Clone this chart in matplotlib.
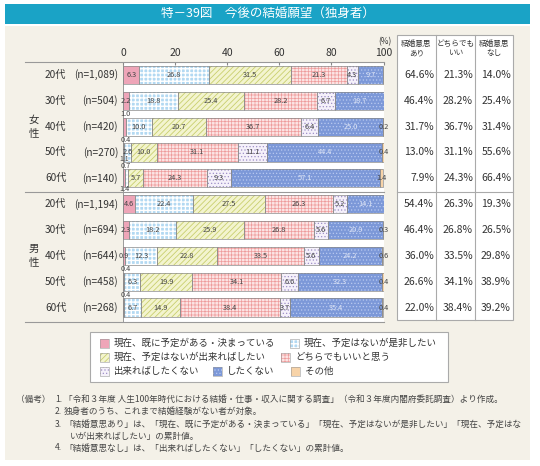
import numpy as np
import matplotlib
matplotlib.use("Agg")
import matplotlib.pyplot as plt
from matplotlib.patches import Rectangle
from matplotlib.lines import Line2D
from matplotlib.transforms import blended_transform_factory

plt.rcParams['font.family'] = ['Noto Sans CJK JP', 'DejaVu Sans']

# データ
ages = ['20代', '30代', '40代', '50代', '60代'] * 2
counts = ['(n=1,089)', '(n=504)', '(n=420)', '(n=270)', '(n=140)',
          '(n=1,194)', '(n=694)', '(n=644)', '(n=458)', '(n=268)']
groups = ['女\n性', '男\n性']

categories = ['現在、既に予定がある・決まっている', '現在、予定はないが是非したい',
              '現在、予定はないが出来ればしたい', 'どちらでもいいと思う',
              '出来ればしたくない', 'したくない', 'その他']

kimatteiru = [6.3, 2.2, 1.0, 0.4, 0.7, 4.6, 2.3, 0.9, 0.4, 0.4]
zehi = [26.8, 18.8, 10.0, 2.6, 1.4, 22.4, 18.2, 12.3, 6.3, 6.7]
dekireba = [31.5, 25.4, 20.7, 10.0, 5.7, 27.5, 25.9, 22.8, 19.9, 14.9]
dochira = [21.3, 28.2, 36.7, 31.1, 24.3, 26.3, 26.8, 33.5, 34.1, 38.4]
dekireba_nai = [4.3, 6.7, 6.4, 11.1, 9.3, 5.2, 5.6, 5.6, 6.6, 3.7]
shitakunai = [9.7, 18.7, 25.0, 44.4, 57.1, 14.1, 20.9, 24.2, 32.3, 35.4]
sonota = [0.0, 0.0, 0.2, 0.4, 1.4, 0.0, 0.3, 0.6, 0.4, 0.4]

table_head = ['結婚意思\nあり', 'どちらでも\nいい', '結婚意思\nなし']
ishi_ari = [64.6, 46.4, 31.7, 13.0, 7.9, 54.4, 46.4, 36.0, 26.6, 22.0]
dochira_tbl = [21.3, 28.2, 36.7, 31.1, 24.3, 26.3, 26.8, 33.5, 34.1, 38.4]
ishi_nashi = [14.0, 25.4, 31.4, 55.6, 66.4, 19.3, 26.5, 29.8, 38.9, 39.2]

notes = [
    ('（備考）', '1.', '「令和３年度 人生100年時代における結婚・仕事・収入に関する調査」（令和３年度内閣府委託調査）より作成。'),
    ('', '2.', '独身者のうち、これまで結婚経験がない者が対象。'),
    ('', '3.', '「結婚意思あり」は、「現在、既に予定がある・決まっている」「現在、予定はないが是非したい」「現在、予定はな'),
    ('', '', 'いが出来ればしたい」の累計値。'),
    ('', '4.', '「結婚意思なし」は、「出来ればしたくない」「したくない」の累計値。'),
]

# 小さい値のラベル位置（行, 系列）: 'above' / 'below' / 'end' / 'skip'
label_pos = {
    (0, 6): 'skip', (1, 6): 'skip', (5, 6): 'skip',
    (2, 0): 'above', (2, 6): 'end',
    (3, 0): 'above', (3, 6): 'end',
    (4, 0): 'above', (4, 1): 'below',
    (6, 6): 'end', (7, 6): 'end', (8, 0): 'above', (8, 6): 'end',
    (9, 0): 'above', (9, 6): 'end',
}

# スタイル: (面の色, ハッチ, ハッチ色, ハッチ線幅)
styles = [
    ('#EEA5B8', None, '#EEA5B8', 0.5),
    ('#B3D9F2', '++++', '#FFFFFF', 1.0),
    ('#F3F4CF', '//////', '#C9CF6E', 0.6),
    ('#FCE4E4', '+++++', '#EE9C9C', 0.5),
    ('#F5F1FA', '.....', '#9E90C8', 0.5),
    ('#7C98D8', '.....', '#B8C9F0', 0.5),
    ('#F7D3A8', None, '#F7D3A8', 0.5),
]

W, H = 540, 466


def fx(px):
    return px / W


def fy(py):
    return 1 - py / H


fig = plt.figure(figsize=(W / 100, H / 100), dpi=100, facecolor='white')

# 背景パネルとタイトル
fig.add_artist(Rectangle((fx(5), fy(460)), fx(530) - fx(5), fy(26) - fy(460),
                         transform=fig.transFigure, facecolor='#F4F1E8', edgecolor='none', zorder=0))
fig.add_artist(Rectangle((fx(5), fy(23.5)), fx(530) - fx(5), fy(3.5) - fy(23.5),
                         transform=fig.transFigure, facecolor='#1AA3C6', edgecolor='none', zorder=0))
fig.text(fx(268), fy(13.5), '特－39図　今後の結婚願望（独身者）', color='white', fontsize=9,
         ha='center', va='center')

ax = fig.add_axes([fx(123), fy(321.5), fx(383.5) - fx(123), fy(62) - fy(321.5)])
ax.set_facecolor('white')

data = np.array([kimatteiru, zehi, dekireba, dochira, dekireba_nai, shitakunai, sonota])
rows = np.arange(len(ages))
lefts = np.vstack([np.zeros(len(rows)), np.cumsum(data, axis=0)[:-1]])
bh = 0.7

for k, (face, hatch, hcol, hlw) in enumerate(styles):
    with plt.rc_context({'hatch.linewidth': hlw}):
        ax.barh(rows, data[k], left=lefts[k], height=bh, color=face, hatch=hatch,
                edgecolor=hcol, linewidth=0, zorder=2)
    ax.barh(rows, data[k], left=lefts[k], height=bh, fill=False,
            edgecolor='#8A8A8A', linewidth=0.5, zorder=3)

# 数値ラベル
for i in rows:
    for k in range(len(styles)):
        v = data[k][i]
        pos = label_pos.get((i, k), 'in')
        if pos == 'skip' or v == 0:
            continue
        x = lefts[k][i] + v / 2
        y = i
        if pos == 'above':
            x, y = lefts[k][i] + 0.9, i - 0.48
        elif pos == 'below':
            x, y = 0.6, i + 0.42
        elif pos == 'end':
            x = max(x, 100.2)
        col = '#DDE4F5' if k == 5 else '#444444'
        if pos in ('above', 'below', 'end'):
            col = '#444444'
        ax.text(x, y, f'{v:.1f}', fontsize=5.3, color=col, ha='center', va='center', zorder=5)
# 50代女性の下側ラベル
ax.text(0.5, 3 + 0.26, '1.1', fontsize=5.0, color='#444444', ha='center', va='center', zorder=5)

ax.set_xlim(0, 100)
ax.set_ylim(9.54, -0.5)
ax.set_xticks([0, 20, 40, 60, 80, 100])
ax.xaxis.set_ticks_position('top')
ax.tick_params(axis='x', direction='in', length=2, pad=3, labelsize=7.5,
               color='#888888', labelcolor='#333333')
ax.set_yticks([])
for s in ['top', 'right', 'bottom']:
    ax.spines[s].set_visible(False)
ax.spines['left'].set_color('#8A8A8A')
ax.spines['left'].set_linewidth(0.6)
fig.text(fx(385), fy(42), '(%)', fontsize=6, color='#333333', ha='center', va='center')

# 横線
for py in [62, 191.5, 321.5]:
    fig.add_artist(Line2D([fx(25), fx(383.5)], [fy(py), fy(py)], transform=fig.transFigure,
                          color='#999999', linewidth=0.8))

tr = blended_transform_factory(fig.transFigure, ax.transData)
for i in rows:
    fig.text(fx(45), i, ages[i], transform=tr, fontsize=7.3, color='#333333', ha='left', va='center')
    fig.text(fx(118), i, counts[i], transform=tr, fontsize=7.3, color='#333333', ha='right', va='center')
for g, label in enumerate(groups):
    fig.text(fx(34), 2 + 5 * g, label, transform=tr, fontsize=7.5, color='#333333',
             ha='center', va='center', linespacing=1.5)

# 右側の表
cols_x = [397, 436, 475, 513]
fig.add_artist(Rectangle((fx(397), fy(320)), fx(513) - fx(397), fy(35) - fy(320),
                         transform=fig.transFigure, facecolor='white', edgecolor='#AAAAAA',
                         linewidth=0.8, zorder=1))
for cx in cols_x[1:-1]:
    fig.add_artist(Line2D([fx(cx), fx(cx)], [fy(35), fy(320)], transform=fig.transFigure,
                          color='#AAAAAA', linewidth=0.8))
fig.add_artist(Line2D([fx(397), fx(513)], [fy(191.5), fy(191.5)], transform=fig.transFigure,
                      color='#AAAAAA', linewidth=0.8))
for c, head in enumerate(table_head):
    cx = (cols_x[c] + cols_x[c + 1]) / 2
    fig.text(fx(cx), fy(48.5), head, fontsize=5.5, color='#333333', ha='center', va='center',
             linespacing=1.3)
for c, vals in enumerate([ishi_ari, dochira_tbl, ishi_nashi]):
    cx = cols_x[c + 1] - 2
    for i in rows:
        fig.text(fx(cx), i, f'{vals[i]:.1f}%', transform=tr, fontsize=7.5, color='#333333',
                 ha='right', va='center')

# 凡例
fig.add_artist(Rectangle((fx(90), fy(382)), fx(448) - fx(90), fy(332) - fy(382),
                         transform=fig.transFigure, facecolor='white', edgecolor='#AAAAAA',
                         linewidth=0.8, zorder=1))
legend_layout = [(0, 100, 343.5), (1, 290, 343.5), (2, 100, 357.5), (3, 281, 357.5),
                 (4, 100, 371.5), (5, 213, 371.5), (6, 291, 371.5)]
for k, sx, sy in legend_layout:
    face, hatch, hcol, hlw = styles[k]
    with plt.rc_context({'hatch.linewidth': hlw}):
        fig.add_artist(Rectangle((fx(sx), fy(sy + 4.5)), 9 / W, 9 / H, transform=fig.transFigure,
                                 facecolor=face, hatch=hatch, edgecolor=hcol, linewidth=0, zorder=2))
    fig.add_artist(Rectangle((fx(sx), fy(sy + 4.5)), 9 / W, 9 / H, transform=fig.transFigure,
                             fill=False, edgecolor='#999999', linewidth=0.4, zorder=3))
    fig.text(fx(sx + 14), fy(sy), categories[k], fontsize=6.8, color='#333333',
             ha='left', va='center')

# 備考
note_y = [399.5, 411, 424.5, 436, 448]
for (head, num, body), ny in zip(notes, note_y):
    if head:
        fig.text(fx(16), fy(ny), head, fontsize=6.2, color='#444444', ha='left', va='center')
    if num:
        fig.text(fx(55), fy(ny), num, fontsize=6.2, color='#444444', ha='left', va='center')
    fig.text(fx(64 if num else 70), fy(ny), body, fontsize=6.2, color='#444444', ha='left', va='center')

fig.savefig('out.png', dpi=100, facecolor='white')
